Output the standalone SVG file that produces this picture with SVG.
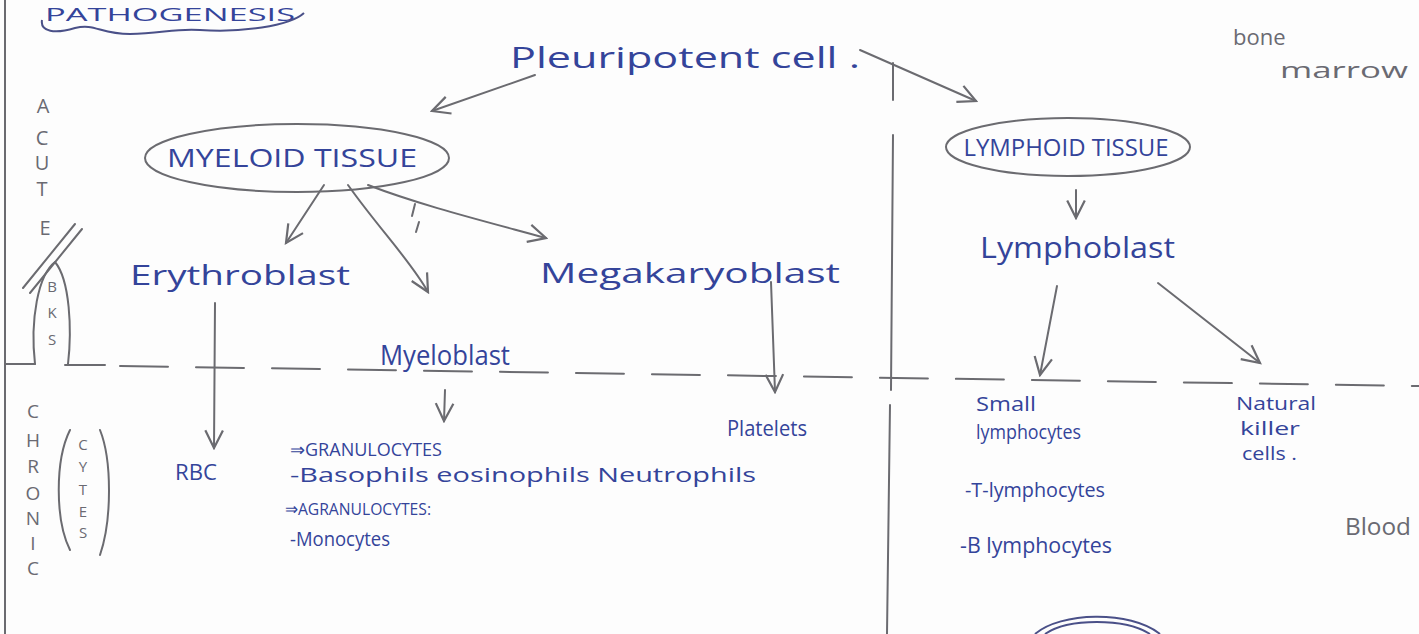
<svg xmlns="http://www.w3.org/2000/svg" width="1419" height="634" viewBox="0 0 1419 634">
<defs>
<style>
.ink{font-family:"Open Sans","Liberation Sans",sans-serif;fill:#34449a;}
.pen{font-family:"Open Sans","Liberation Sans",sans-serif;fill:#6a6a72;}
.ln{fill:none;stroke:#6b6b70;stroke-width:2;stroke-linecap:round;stroke-linejoin:round;}
.bl{fill:none;stroke:#4a5088;stroke-width:2;}
</style>
<marker id="ah" viewBox="0 0 20 20" refX="18" refY="10" markerWidth="22" markerHeight="22" markerUnits="userSpaceOnUse" orient="auto">
<path d="M2,2 L18,10 L2,18" fill="none" stroke="#6b6b70" stroke-width="2"/>
</marker>
</defs>
<rect width="1419" height="634" fill="#fdfdfd"/>

<g id="frame">
<path class="ln" d="M5,0 L5,634" stroke-width="3"/>
<path class="ln" d="M5,364 L35,364 M65,365 L105,365"/>
<path class="ln" d="M120,366 L1419,386" stroke-dasharray="48 28"/>
<path class="ln" d="M893,63 L893,100 M893,135 L891,390 M890,405 L887,634"/>
</g>

<g id="title">
<text class="ink" x="45" y="21" font-size="19" textLength="250" lengthAdjust="spacingAndGlyphs">PATHOGENESIS</text>
<path class="bl" d="M42,20 C40,32 55,34 75,28 C95,23 100,34 130,34 C160,34 175,28 200,30 C240,33 290,26 304,13"/>
</g>

<g id="acute" class="pen" font-size="20" text-anchor="middle">
<text x="43" y="113">A</text>
<text x="42" y="145">C</text>
<text x="42" y="170">U</text>
<text x="42" y="196">T</text>
<text x="45" y="235">E</text>
<path class="ln" d="M23,288 L75,224 M30,293 L82,229"/>
<path class="ln" d="M35,364 C30,320 38,275 55,262 C70,280 72,330 68,364"/>
<text x="52" y="292" font-size="15">B</text>
<text x="52" y="318" font-size="15">K</text>
<text x="52" y="345" font-size="15">S</text>
</g>

<g id="chronic" class="pen" font-size="19" text-anchor="middle">
<text x="33" y="418">C</text>
<text x="33" y="447">H</text>
<text x="33" y="473">R</text>
<text x="33" y="500">O</text>
<text x="33" y="525">N</text>
<text x="33" y="550">I</text>
<text x="33" y="575">C</text>
<path class="ln" d="M70,430 C55,460 55,520 70,550" stroke-width="1.8"/>
<path class="ln" d="M100,430 C112,460 112,520 100,555" stroke-width="1.8"/>
<text x="83" y="450" font-size="15">C</text>
<text x="83" y="472" font-size="15">Y</text>
<text x="83" y="495" font-size="15">T</text>
<text x="83" y="517" font-size="15">E</text>
<text x="83" y="538" font-size="15">S</text>
</g>

<g id="pluripotent">
<text class="ink" x="510" y="68" font-size="30" textLength="350" lengthAdjust="spacingAndGlyphs">Pleuripotent cell .</text>
</g>

<g id="bonemarrow" class="pen" font-size="22">
<text x="1233" y="45">bone</text>
<text x="1280" y="78" textLength="128" lengthAdjust="spacingAndGlyphs">marrow</text>
</g>

<g id="myeloid">
<ellipse class="ln" cx="297" cy="158" rx="152" ry="34"/>
<text class="ink" x="292" y="167" font-size="25" text-anchor="middle" textLength="250" lengthAdjust="spacingAndGlyphs">MYELOID TISSUE</text>
</g>

<g id="lymphoid">
<ellipse class="ln" cx="1068" cy="147" rx="122" ry="29"/>
<text class="ink" x="1066" y="156" font-size="23" text-anchor="middle" textLength="205" lengthAdjust="spacingAndGlyphs">LYMPHOID TISSUE</text>
</g>

<g id="erythroblast"><text class="ink" x="130" y="285" font-size="28" textLength="220" lengthAdjust="spacingAndGlyphs">Erythroblast</text></g>
<g id="myeloblast"><text class="ink" x="380" y="365" font-size="27" textLength="130" lengthAdjust="spacingAndGlyphs">Myeloblast</text></g>
<g id="megakaryoblast"><text class="ink" x="540" y="283" font-size="28" textLength="300" lengthAdjust="spacingAndGlyphs">Megakaryoblast</text></g>
<g id="lymphoblast"><text class="ink" x="980" y="258" font-size="30" textLength="195" lengthAdjust="spacingAndGlyphs">Lymphoblast</text></g>

<g id="rbc"><text class="ink" x="175" y="480" font-size="22" textLength="42" lengthAdjust="spacingAndGlyphs">RBC</text></g>

<g id="granulocytes" class="ink">
<text x="290" y="456" font-size="18" textLength="152" lengthAdjust="spacingAndGlyphs">⇒GRANULOCYTES</text>
<text x="290" y="482" font-size="20" textLength="466" lengthAdjust="spacingAndGlyphs">-Basophils eosinophils Neutrophils</text>
<text x="285" y="515" font-size="17" textLength="146" lengthAdjust="spacingAndGlyphs">⇒AGRANULOCYTES:</text>
<text x="290" y="546" font-size="20" textLength="100" lengthAdjust="spacingAndGlyphs">-Monocytes</text>
</g>

<g id="platelets"><text class="ink" x="727" y="436" font-size="22" textLength="80" lengthAdjust="spacingAndGlyphs">Platelets</text></g>

<g id="small" class="ink" font-size="20">
<text x="976" y="411" textLength="60" lengthAdjust="spacingAndGlyphs">Small</text>
<text x="976" y="439" textLength="105" lengthAdjust="spacingAndGlyphs">lymphocytes</text>
<text x="965" y="497" textLength="140" lengthAdjust="spacingAndGlyphs">-T-lymphocytes</text>
<text x="960" y="553" font-size="22" textLength="152" lengthAdjust="spacingAndGlyphs">-B lymphocytes</text>
</g>

<g id="natural" class="ink" font-size="18">
<text x="1236" y="410" textLength="80" lengthAdjust="spacingAndGlyphs">Natural</text>
<text x="1240" y="435" textLength="60" lengthAdjust="spacingAndGlyphs">killer</text>
<text x="1242" y="460" textLength="55" lengthAdjust="spacingAndGlyphs">cells .</text>
</g>

<g id="blood"><text class="pen" x="1345" y="535" font-size="24" textLength="66" lengthAdjust="spacingAndGlyphs">Blood</text></g>

<g id="seal"><path class="bl" d="M1035,634 C1060,612 1130,610 1160,634" stroke="#5a8ad0"/><path class="bl" d="M1045,634 C1068,618 1125,618 1150,634" stroke="#7aa6e0" stroke-width="1.5"/></g>

<g id="connectors">
<path class="ln" d="M535,75 L432,111" marker-end="url(#ah)"/>
<path class="ln" d="M860,50 L976,101" marker-end="url(#ah)"/>
<path class="ln" d="M324,185 L286,243" marker-end="url(#ah)"/>
<path class="ln" d="M348,185 C380,230 410,260 428,292" marker-end="url(#ah)"/>
<path class="ln" d="M368,185 C420,205 480,220 546,238" marker-end="url(#ah)"/>
<path class="ln" d="M415,204 L412,216 M419,222 L416,232" stroke-width="1.5"/>
<path class="ln" d="M1076,190 L1076,218" marker-end="url(#ah)"/>
<path class="ln" d="M215,303 L214,448" marker-end="url(#ah)"/>
<path class="ln" d="M445,390 L444,421" marker-end="url(#ah)"/>
<path class="ln" d="M771,282 L775,392" marker-end="url(#ah)"/>
<path class="ln" d="M1057,286 L1040,375" marker-end="url(#ah)"/>
<path class="ln" d="M1158,283 L1260,363" marker-end="url(#ah)"/>
</g>
</svg>
